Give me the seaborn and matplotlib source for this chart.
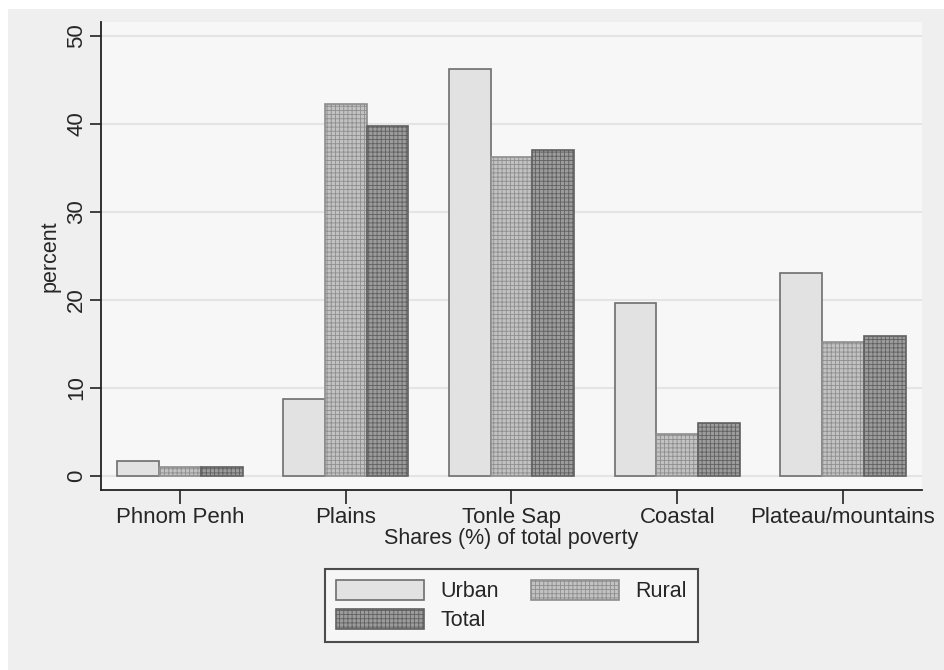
import pandas as pd
import matplotlib
matplotlib.use("Agg")
import matplotlib.pyplot as plt
import matplotlib.patches as mpatches
import seaborn as sns

regions = ["Phnom Penh", "Plains", "Tonle Sap", "Coastal", "Plateau/mountains"]
urban = [1.7, 8.7, 46.3, 19.7, 23.1]
rural = [1.0, 42.3, 36.2, 4.8, 15.2]
total = [1.0, 39.8, 37.0, 6.0, 15.9]
groups = ["Urban", "Rural", "Total"]

df = pd.DataFrame({
    "region": regions * 3,
    "group": [g for g in groups for _ in regions],
    "percent": urban + rural + total,
})

sns.set_style("white")
plt.rcParams["font.family"] = ["Liberation Sans", "DejaVu Sans"]
plt.rcParams["hatch.linewidth"] = 0.6

fills = {"Urban": "#e2e2e2", "Rural": "#c2c2c2", "Total": "#9c9c9c"}
edges = {"Urban": "#6e6e6e", "Rural": "#8e8e8e", "Total": "#606060"}
hatches = {"Urban": "", "Rural": "++++", "Total": "++++"}

fig = plt.figure(figsize=(9.44, 6.7), dpi=100, facecolor="white")
fig.patches.append(mpatches.Rectangle((8 / 944, -0.01), 1, 1.01 - 9 / 670,
                                      transform=fig.transFigure,
                                      facecolor="#efefef", edgecolor="none", zorder=-10))
ax = fig.add_axes([101 / 944, 1 - 490 / 670, (922 - 101) / 944, (490 - 22) / 670])
ax.set_facecolor("#f7f7f7")

sns.barplot(data=df, x="region", y="percent", hue="group", order=regions,
            hue_order=groups, palette=fills, width=0.755, ax=ax, legend=False,
            saturation=1)

for cont, g in zip(ax.containers, groups):
    for bar in cont:
        bar.set_facecolor(fills[g])
        bar.set_edgecolor(edges[g])
        bar.set_hatch(hatches[g])
        bar.set_linewidth(1.2)

ax.set_ylim(-1.6, 51.6)
ax.set_xlim(-0.477, 4.477)
ax.set_yticks([0, 10, 20, 30, 40, 50])
ax.yaxis.grid(True, color="#e4e4e4", linewidth=1.5)
ax.set_axisbelow(True)
for s in ["top", "right"]:
    ax.spines[s].set_visible(False)
for s in ["left", "bottom"]:
    ax.spines[s].set_color("#222222")
    ax.spines[s].set_linewidth(1.3)

ax.tick_params(axis="y", labelsize=16, length=8, width=1.2, color="#222222",
               left=True, labelrotation=90, pad=2)
for lab in ax.get_yticklabels():
    lab.set_va("center")
ax.tick_params(axis="x", labelsize=16, length=10, width=1.2, color="#222222",
               bottom=True, pad=2)
ax.set_ylabel("percent", fontsize=15.5, labelpad=4)
ax.set_xlabel("Shares (%) of total poverty", fontsize=15.5, labelpad=0)

handles = {g: mpatches.Patch(facecolor=fills[g], edgecolor=edges[g],
                             hatch=hatches[g], linewidth=1.2, label=g)
           for g in groups}
leg = fig.legend([handles["Urban"], handles["Total"], handles["Rural"]],
                 ["Urban", "Total", "Rural"], ncol=2, loc="center",
                 bbox_to_anchor=(511.5 / 944, 1 - 605.5 / 670), fontsize=15.5,
                 handlelength=4.1, handleheight=1.1, columnspacing=1.5,
                 handletextpad=0.75, labelspacing=0.3, borderpad=0.5,
                 fancybox=False, frameon=True)
leg.get_frame().set_edgecolor("#222222")
leg.get_frame().set_linewidth(1.5)
leg.get_frame().set_facecolor("#f8f8f8")

fig.savefig("out.png", dpi=100)
